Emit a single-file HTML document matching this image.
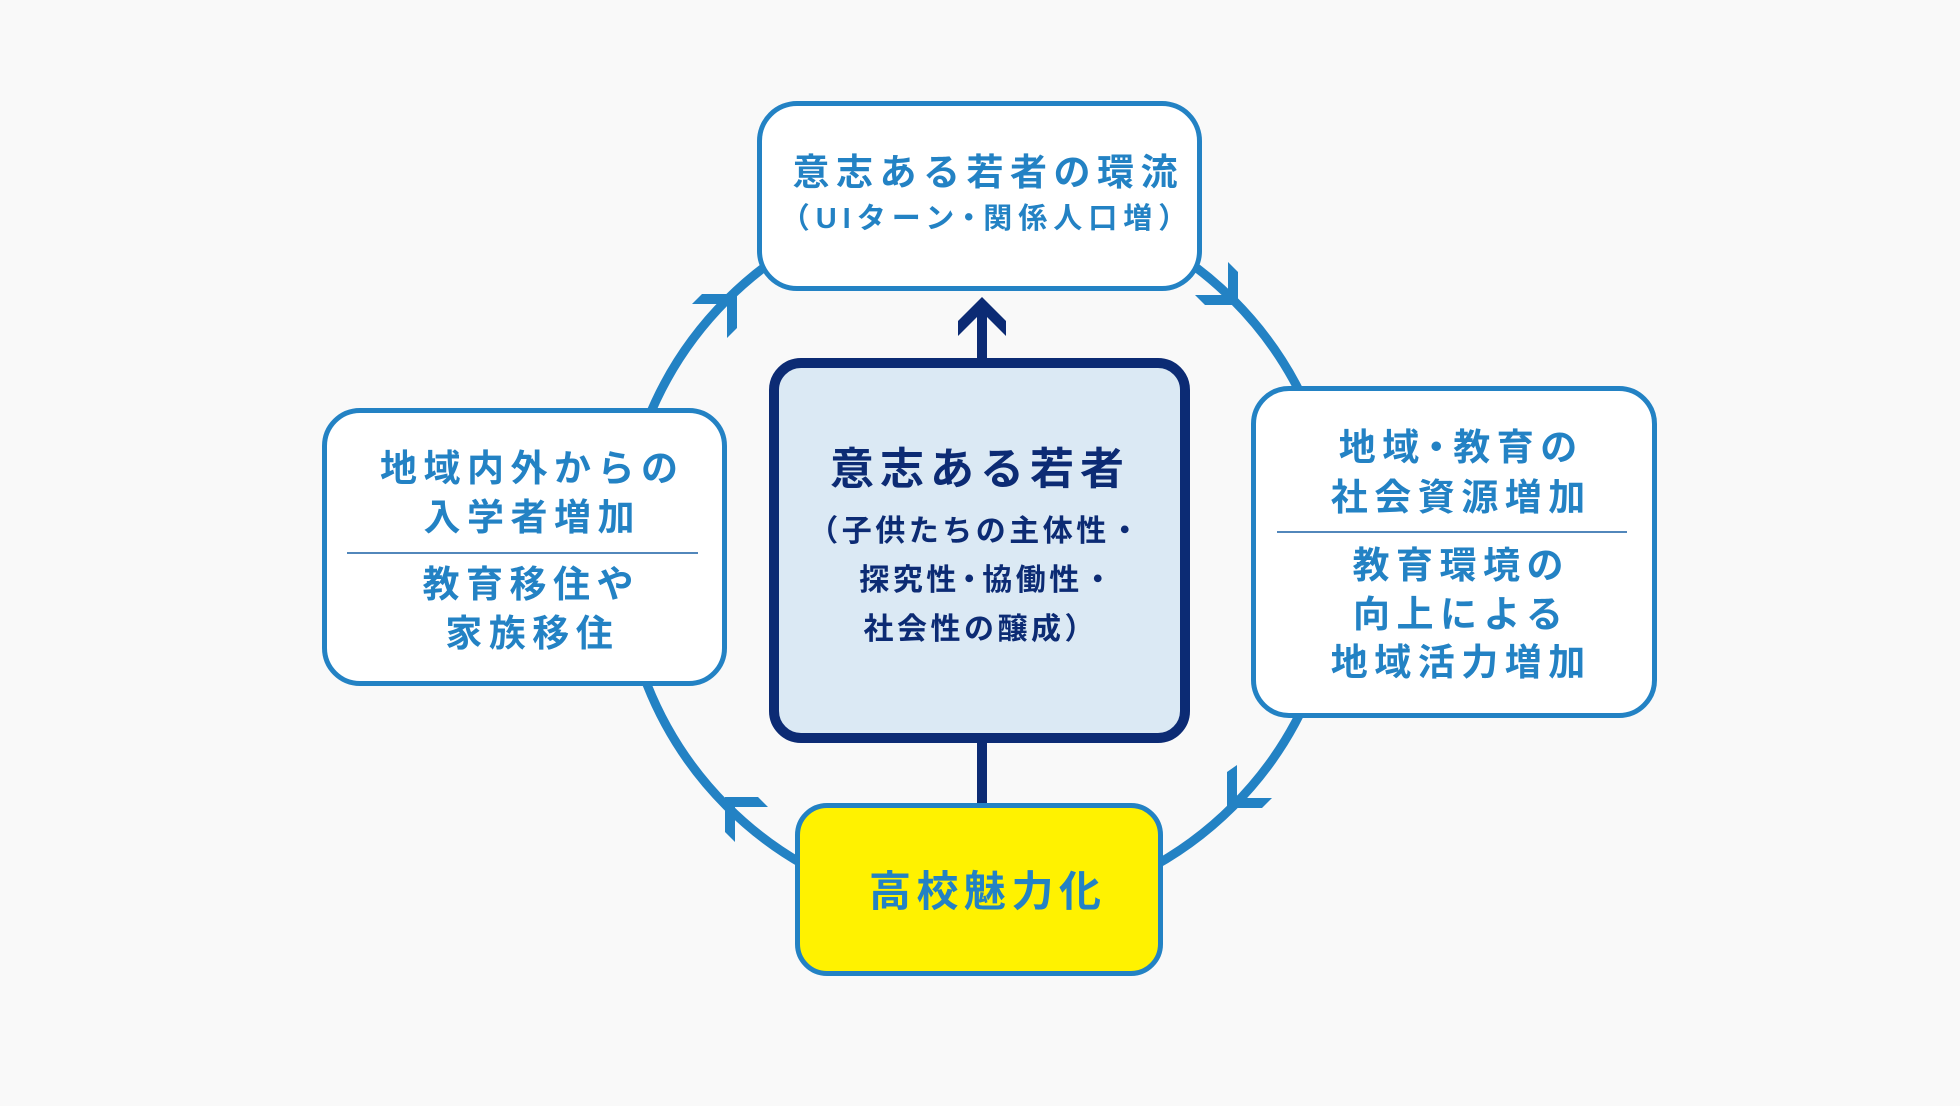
<!DOCTYPE html>
<html><head><meta charset="utf-8">
<style>
html,body{margin:0;padding:0;}
body{width:1960px;height:1106px;background:#f9f9f9;position:relative;overflow:hidden;
font-family:"Liberation Sans","Noto Sans CJK JP",sans-serif;}
.box{position:absolute;box-sizing:border-box;}
.t{position:absolute;box-sizing:border-box;width:600px;text-align:center;white-space:nowrap;font-weight:700;
font-family:"Liberation Sans","Noto Sans CJK JP",sans-serif;}
.b{color:#2382c4;}
.n{color:#0c2b74;}
.div{position:absolute;height:2px;background:#5287bb;}
</style></head><body>
<svg width="1960" height="1106" style="position:absolute;left:0;top:0" xmlns="http://www.w3.org/2000/svg">
<circle cx="980" cy="553" r="358" fill="none" stroke="#2382c4" stroke-width="9"/>
<polygon fill="#2382c4" points="702,294 737,294 737,328 727,338 727,304 692,304"/>
<polygon fill="#2382c4" points="1228,262 1238,272 1238,305 1205,305 1195,295 1228,295"/>
<polygon fill="#2382c4" points="1227,772 1237,765 1237,798 1272,798 1262,808 1227,808"/>
<polygon fill="#2382c4" points="725,797 758,797 768,807 735,807 735,842 725,832"/>
<polygon fill="#0c2b74" points="982,297 1006,321 1006,336 987,317 987,360 977,360 977,317 958,336 958,321"/>
<rect x="977" y="738" width="10" height="70" fill="#0c2b74"/>
</svg>

<!-- top box -->
<div class="box" style="left:757px;top:101px;width:445px;height:190px;border:5px solid #2382c4;border-radius:40px;background:#fff;"></div>
<div class="t b" style="left:685px;top:148px;height:50px;line-height:50px;font-size:37px;letter-spacing:6.5px;padding-left:6.5px;">意志ある若者の環流</div>
<div class="t b" style="left:684px;top:199px;height:40px;line-height:40px;font-size:29px;letter-spacing:6px;padding-left:6px;">（UIターン<span style="margin:0 -6px;">・</span>関係人口増）</div>

<!-- center box -->
<div class="box" style="left:769px;top:358px;width:421px;height:385px;border:10px solid #0c2b74;border-radius:32px;background:#dbe9f4;"></div>
<div class="t n" style="left:677px;top:440px;height:60px;line-height:60px;font-size:44px;letter-spacing:6px;padding-left:6px;">意志ある若者</div>
<div class="t n" style="left:674px;top:512px;height:40px;line-height:40px;font-size:30px;letter-spacing:3.5px;padding-left:3.5px;">（子供たちの主体性・</div>
<div class="t n" style="left:686px;top:561px;height:40px;line-height:40px;font-size:30px;letter-spacing:3.5px;padding-left:3.5px;">探究性<span style="margin:0 -5.5px;">・</span>協働性・</div>
<div class="t n" style="left:679px;top:610px;height:40px;line-height:40px;font-size:30px;letter-spacing:3.5px;padding-left:3.5px;">社会性の醸成）</div>

<!-- left box -->
<div class="box" style="left:322px;top:408px;width:405px;height:278px;border:5px solid #2382c4;border-radius:38px;background:#fff;"></div>
<div class="t b" style="left:229px;top:444px;height:50px;line-height:50px;font-size:37px;letter-spacing:6.5px;padding-left:6.5px;">地域内外からの</div>
<div class="t b" style="left:229px;top:493px;height:50px;line-height:50px;font-size:37px;letter-spacing:6.5px;padding-left:6.5px;">入学者増加</div>
<div class="div" style="left:347px;top:552px;width:351px;"></div>
<div class="t b" style="left:228px;top:560px;height:50px;line-height:50px;font-size:37px;letter-spacing:6.5px;padding-left:6.5px;">教育移住や</div>
<div class="t b" style="left:229px;top:609px;height:50px;line-height:50px;font-size:37px;letter-spacing:6.5px;padding-left:6.5px;">家族移住</div>

<!-- right box -->
<div class="box" style="left:1251px;top:386px;width:406px;height:332px;border:5px solid #2382c4;border-radius:38px;background:#fff;"></div>
<div class="t b" style="left:1158px;top:423px;height:50px;line-height:50px;font-size:37px;letter-spacing:6.5px;padding-left:6.5px;">地域<span style="margin:0 -8px;">・</span>教育の</div>
<div class="t b" style="left:1158px;top:473px;height:50px;line-height:50px;font-size:37px;letter-spacing:6.5px;padding-left:6.5px;">社会資源増加</div>
<div class="div" style="left:1277px;top:531px;width:350px;"></div>
<div class="t b" style="left:1158px;top:541px;height:50px;line-height:50px;font-size:37px;letter-spacing:6.5px;padding-left:6.5px;">教育環境の</div>
<div class="t b" style="left:1158px;top:590px;height:50px;line-height:50px;font-size:37px;letter-spacing:6.5px;padding-left:6.5px;">向上による</div>
<div class="t b" style="left:1158px;top:638px;height:50px;line-height:50px;font-size:37px;letter-spacing:6.5px;padding-left:6.5px;">地域活力増加</div>

<!-- yellow box -->
<div class="box" style="left:795px;top:803px;width:368px;height:173px;border:5px solid #2382c4;border-radius:32px;background:#fff200;"></div>
<div class="t b" style="left:685px;top:862px;height:60px;line-height:60px;font-size:42px;letter-spacing:5.5px;padding-left:5.5px;">高校魅力化</div>
</body></html>
